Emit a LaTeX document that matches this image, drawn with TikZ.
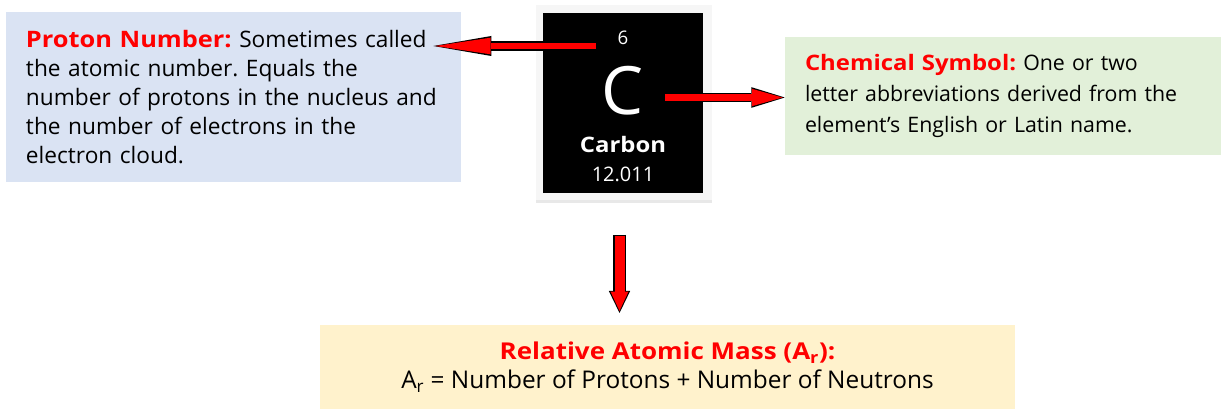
\documentclass[tikz,border=0pt]{standalone}
\usepackage{fontspec}
\setmainfont{Open Sans}[BoldFeatures={FakeStretch=1.12}]
\usetikzlibrary{arrows.meta,shadows}
\definecolor{boxblue}{HTML}{DAE3F3}
\definecolor{boxgreen}{HTML}{E2F0D9}
\definecolor{boxyellow}{HTML}{FFF2CC}
\newcommand{\keyword}[1]{{\bfseries\color{red}#1}}
\frenchspacing
\tikzset{
    infobox/.style={inner xsep=15pt, inner ysep=0pt, align=left, font=\fontsize{17pt}{21.75pt}\selectfont},
    tiletext/.style={text=white, anchor=base, inner sep=0pt},
    redarrow/.style n args={5}{
        preaction={draw=black, line width=#1, shorten >=0pt, shorten <=0pt, -{Triangle[length=#2, width=#3, line width=0pt]}},
        draw=red, line width=#1-2pt, shorten >=1.6pt, shorten <=1pt, -{Triangle[length=#4, width=#5, line width=0pt]}},
}
\begin{document}
\begin{tikzpicture}[x=0.75pt, y=-0.75pt]
    \useasboundingbox (0,0) rectangle (1221,409);
    \node[infobox, fill=boxblue, minimum width=341.25pt, minimum height=127.5pt, text width=311.25pt] (proton) at (233.5,97) {
        \keyword{Proton Number:} Sometimes called\\
        the atomic number. Equals the\\
        number of protons in the nucleus and\\
        the number of electrons in the\\
        electron cloud.
    };
    \node[infobox, fill=boxgreen, minimum width=327pt, minimum height=88.5pt, text width=297pt, font=\fontsize{16pt}{23.25pt}\selectfont] (symbol) at (1003,96) {
        \keyword{Chemical Symbol:} One or two\\
        letter abbreviations derived from the\\
        element’s English or Latin name.
    };
    \node[infobox, fill=boxyellow, minimum width=521.25pt, minimum height=63pt, align=center, font=\fontsize{18.3pt}{21.75pt}\selectfont] (mass) at (667.5,367) {
        {\fontsize{17.4pt}{21.75pt}\selectfont\keyword{Relative Atomic Mass (A\textsubscript{r}):}}\\
        A\textsubscript{r} = Number of Protons + Number of Neutrons
    };
    \node[fill=gray!7, minimum width=132pt, minimum height=146.25pt, inner sep=0pt, drop shadow={shadow xshift=0pt, shadow yshift=-2.5pt, opacity=0.18}] (frame) at (624,102.5) {};
    \node[fill=black, minimum width=120pt, minimum height=135pt, inner sep=0pt] (tile) at (623,103) {};
    \node[tiletext, font=\fontsize{14pt}{14pt}\selectfont] (number) at (623,45) {6};
    \node[tiletext, font=\fontsize{50pt}{50pt}\selectfont] (element) at (623,115) {C};
    \node[tiletext, font=\fontsize{16pt}{16pt}\selectfont\bfseries] (name) at (623,153) {Carbon};
    \node[tiletext, font=\fontsize{15pt}{15pt}\selectfont] (weight) at (623,182) {12.011};
    \coordinate (pn-tail) at (597,46);
    \coordinate (cs-tail) at (664,97.5);
    \coordinate (am-tail) at (619.5,235);
    \coordinate (am-tip) at (619.5,313);
    \draw[redarrow={7pt}{43.5pt}{15pt}{41.5pt}{12.5pt}] (pn-tail) -- ([xshift=-21pt]proton.east |- pn-tail);
    \draw[redarrow={7pt}{25pt}{15.5pt}{23pt}{13pt}] (cs-tail) -- (symbol.west |- cs-tail);
    \draw[redarrow={9.5pt}{16.5pt}{16pt}{14.5pt}{13.5pt}] (am-tail) -- (am-tip);
\end{tikzpicture}
\end{document}
